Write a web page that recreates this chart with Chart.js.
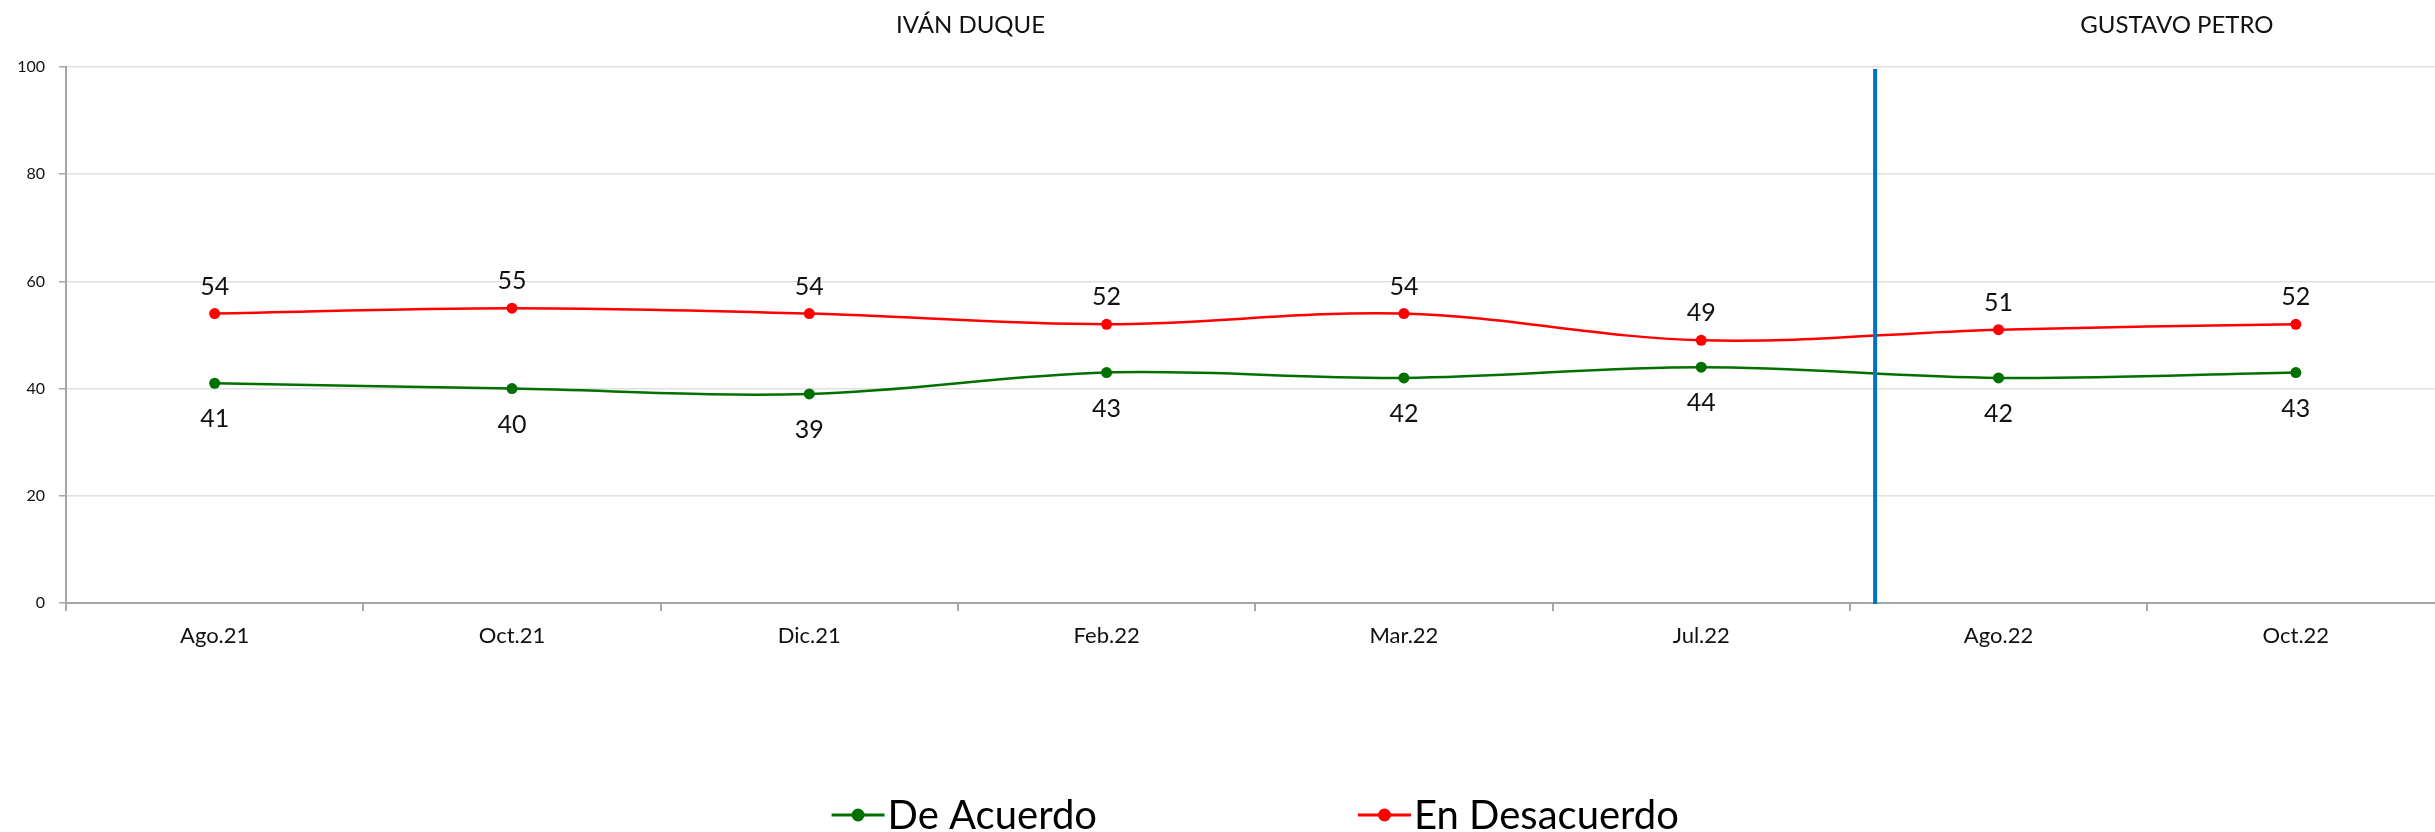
<!DOCTYPE html>
<html lang="es">
<head>
<meta charset="utf-8">
<title>De acuerdo / En desacuerdo</title>
<script src="https://cdn.jsdelivr.net/npm/chart.js@4.4.1/dist/chart.umd.min.js"></script>
<style>
  html, body { margin: 0; padding: 0; background: #fff; overflow: hidden; }
  #wrap { width: 2450px; height: 832px; }
</style>
</head>
<body>
<div id="wrap"><canvas id="grafico" width="2450" height="832"></canvas></div>
<script>
const periodos = ['Ago.21', 'Oct.21', 'Dic.21', 'Feb.22', 'Mar.22', 'Jul.22', 'Ago.22', 'Oct.22'];
const deAcuerdo = [41, 40, 39, 43, 42, 44, 42, 43];
const enDesacuerdo = [54, 55, 54, 52, 54, 49, 51, 52];
const ticksY = [0, 20, 40, 60, 80, 100];
const gobiernos = ['IVÁN DUQUE', 'GUSTAVO PETRO'];

const FUENTE = 'Lato, "Open Sans", sans-serif';
// where the change of government falls, in category units (between Jul.22 and Ago.22)
const CAMBIO = 5.585;

// pixel for a fractional category index
function xEn(chart, idx) {
  const x = chart.scales.x;
  const i = Math.floor(idx);
  const a = x.getPixelForValue(i);
  const b = x.getPixelForValue(i + 1);
  return a + (b - a) * (idx - i);
}

const extras = {
  id: 'extras',
  afterDatasetsDraw(chart) {
    const ctx = chart.ctx;
    const area = chart.chartArea;

    // value labels
    ctx.save();
    ctx.font = '25px ' + FUENTE;
    ctx.fillStyle = '#111';
    ctx.textAlign = 'center';
    ctx.textBaseline = 'middle';
    chart.data.datasets.forEach((ds, i) => {
      chart.getDatasetMeta(i).data.forEach((pt, j) => {
        ctx.fillText(ds.data[j], pt.x, pt.y + ds.labelOffset);
      });
    });
    ctx.restore();

    // separator between governments
    const xs = xEn(chart, CAMBIO);
    ctx.save();
    ctx.strokeStyle = '#0070C0';
    ctx.lineWidth = 4;
    ctx.beginPath();
    ctx.moveTo(xs, area.top + 2);
    ctx.lineTo(xs, area.bottom + 1);
    ctx.stroke();
    ctx.restore();
  },
  afterDraw(chart) {
    const ctx = chart.ctx;
    const area = chart.chartArea;
    const xs = xEn(chart, CAMBIO);

    // government headers
    ctx.save();
    ctx.font = '24px ' + FUENTE;
    ctx.fillStyle = '#111';
    ctx.textAlign = 'center';
    ctx.textBaseline = 'middle';
    ctx.fillText(gobiernos[0], (area.left + xs) / 2, 25);
    ctx.fillText(gobiernos[1], xEn(chart, 6.6), 25);
    ctx.restore();

    // legend: line + dot marker then label
    ctx.save();
    ctx.font = '40px ' + FUENTE;
    const marca = 53, sep = 3, hueco = 261, yLey = 815;
    const items = chart.data.datasets.map(ds => ({
      texto: ds.label,
      color: ds.borderColor,
      ancho: marca + sep + ctx.measureText(ds.label).width
    }));
    const total = items.reduce((s, it) => s + it.ancho, 0) + hueco * (items.length - 1);
    let x = (area.left + area.right) / 2 - total / 2;
    items.forEach(it => {
      ctx.strokeStyle = it.color;
      ctx.fillStyle = it.color;
      ctx.lineWidth = 3;
      ctx.beginPath();
      ctx.moveTo(x, yLey);
      ctx.lineTo(x + marca, yLey);
      ctx.stroke();
      ctx.beginPath();
      ctx.arc(x + marca / 2, yLey, 6.5, 0, Math.PI * 2);
      ctx.fill();
      ctx.fillStyle = '#000';
      ctx.textAlign = 'left';
      ctx.textBaseline = 'middle';
      ctx.fillText(it.texto, x + marca + sep, yLey + 1);
      x += it.ancho + hueco;
    });
    ctx.restore();
  }
};

new Chart(document.getElementById('grafico'), {
  type: 'line',
  data: {
    labels: periodos,
    datasets: [
      {
        label: 'De Acuerdo',
        data: deAcuerdo,
        borderColor: '#007000',
        backgroundColor: '#007000',
        borderWidth: 2.5,
        pointRadius: 5.5,
        pointBorderWidth: 0,
        tension: 0.35,
        labelOffset: 36
      },
      {
        label: 'En Desacuerdo',
        data: enDesacuerdo,
        borderColor: '#FF0000',
        backgroundColor: '#FF0000',
        borderWidth: 2.5,
        pointRadius: 5.5,
        pointBorderWidth: 0,
        tension: 0.35,
        labelOffset: -27
      }
    ]
  },
  options: {
    responsive: false,
    animation: false,
    devicePixelRatio: 1,
    layout: { padding: { top: 67, right: 3, bottom: 159, left: 0 } },
    plugins: {
      legend: { display: false },
      tooltip: { enabled: false }
    },
    scales: {
      x: {
        offset: true,
        grid: {
          offset: true,
          drawOnChartArea: false,
          drawTicks: true,
          tickLength: 8,
          color: '#a6a6a6',
          lineWidth: 2
        },
        border: { color: '#a6a6a6', width: 2 },
        ticks: {
          color: '#111',
          padding: 12,
          font: { family: FUENTE, size: 22 },
          maxRotation: 0
        },
        afterFit(scale) { scale.height = 70; }
      },
      y: {
        min: 0,
        max: 100,
        afterBuildTicks(scale) { scale.ticks = ticksY.map(v => ({ value: v })); },
        grid: {
          color: '#e0e0e0',
          lineWidth: 1.5,
          tickColor: '#a6a6a6',
          tickLength: 7
        },
        border: { color: '#a6a6a6', width: 2 },
        ticks: {
          color: '#111',
          padding: 14,
          font: { family: FUENTE, size: 16 }
        },
        afterFit(scale) { scale.width = 66; }
      }
    }
  },
  plugins: [extras]
});
</script>
</body>
</html>
